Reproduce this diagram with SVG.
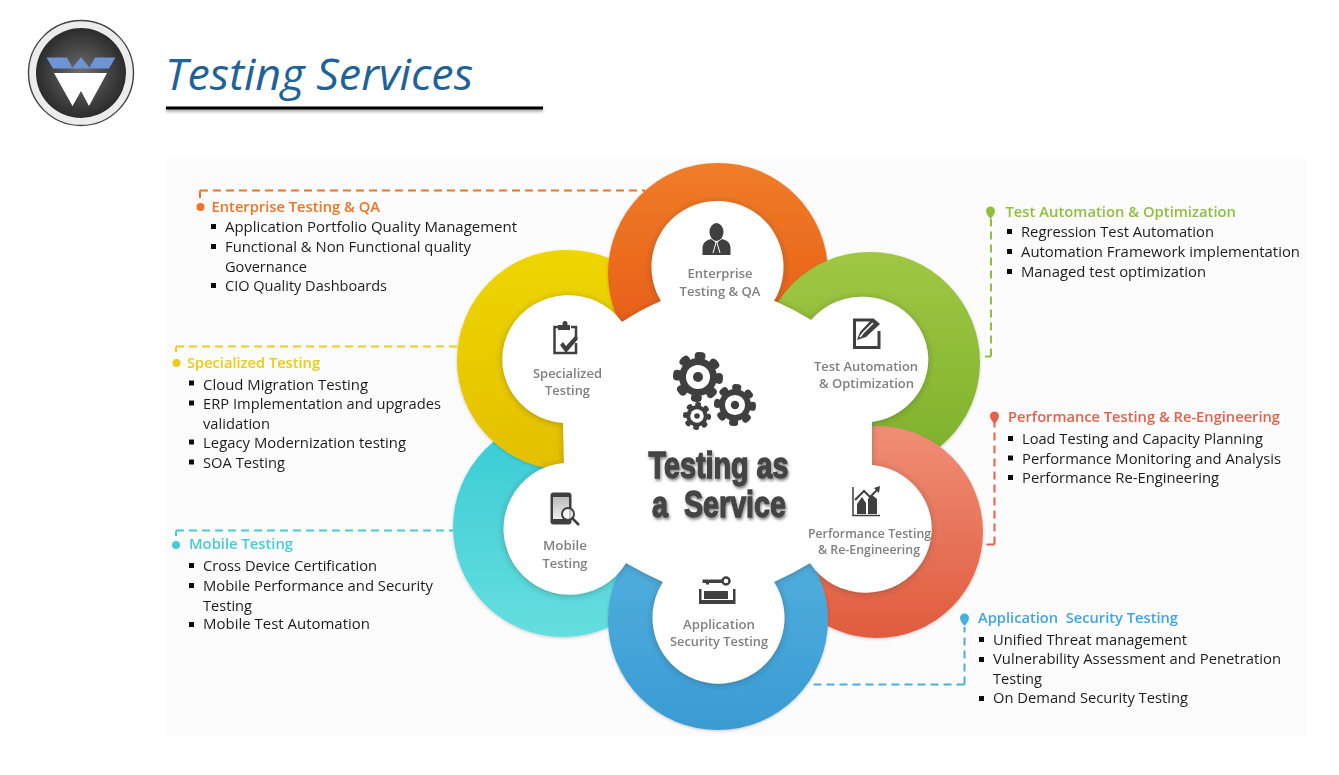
<svg xmlns="http://www.w3.org/2000/svg" width="1339" height="775" viewBox="0 0 1339 775">
<style>
text{font-family:"Open Sans","Noto Sans","Liberation Sans",sans-serif}
.b{font-size:15px;fill:#1d1d1d}
.h{font-size:15px;font-weight:600}
.l{font-size:13px;font-weight:600;fill:#808080;text-anchor:middle}
.c{font-family:"Liberation Sans",Arial,sans-serif;font-size:36px;font-weight:700;fill:#444;stroke:#444;stroke-width:1.3;text-anchor:middle}
.sq{fill:#111}
.dash{fill:none;stroke-width:2;stroke-dasharray:8 5}
.ic{fill:#3f3f3f}
.ol{fill:none;stroke:#3f3f3f}
.ring{filter:url(#rs)}
.soft{filter:url(#sf)}
</style>
<defs>
<linearGradient id="gO" x1="0" y1="0" x2="0" y2="1"><stop offset="0" stop-color="#ef7d28"/><stop offset="1" stop-color="#e65512"/></linearGradient>
<linearGradient id="gG" x1="0" y1="0" x2="0" y2="1"><stop offset="0" stop-color="#9fc744"/><stop offset="1" stop-color="#7db02b"/></linearGradient>
<linearGradient id="gR" x1="0" y1="0" x2="0" y2="1"><stop offset="0" stop-color="#ef8e76"/><stop offset="1" stop-color="#e05c3e"/></linearGradient>
<linearGradient id="gB" x1="0" y1="0" x2="0" y2="1"><stop offset="0" stop-color="#56b3e0"/><stop offset="1" stop-color="#3a9bd3"/></linearGradient>
<linearGradient id="gC" x1="0" y1="0" x2="0" y2="1"><stop offset="0" stop-color="#38cbd5"/><stop offset="1" stop-color="#65dede"/></linearGradient>
<linearGradient id="gY" x1="0" y1="0" x2="0" y2="1"><stop offset="0" stop-color="#eed600"/><stop offset="1" stop-color="#e4bf00"/></linearGradient>
<radialGradient id="gL"><stop offset="0" stop-color="#6e6e6e"/><stop offset="1" stop-color="#2b2b2b"/></radialGradient>
<linearGradient id="gP" x1="0" y1="0" x2="0" y2="1"><stop offset="0" stop-color="#bbb"/><stop offset="1" stop-color="#eee"/></linearGradient>
<filter id="rs" x="-10%" y="-10%" width="120%" height="120%"><feDropShadow dx="0" dy="1" stdDeviation="1.5" flood-color="#000" flood-opacity=".2"/></filter>
<filter id="hs" x="-10%" y="-10%" width="120%" height="120%"><feDropShadow dx="0" dy="1" stdDeviation="3" flood-color="#333" flood-opacity=".35"/></filter>
<filter id="ts" x="-10%" y="-20%" width="120%" height="140%"><feDropShadow dx="1" dy="2" stdDeviation="1.5" flood-color="#000" flood-opacity=".5"/></filter>
<filter id="ls" x="-2%" y="-200%" width="104%" height="500%"><feDropShadow dx="0" dy="2" stdDeviation="1.5" flood-color="#000" flood-opacity=".4"/></filter>
<filter id="sf" x="-5%" y="-5%" width="110%" height="110%"><feGaussianBlur stdDeviation=".3"/></filter>
<pattern id="tex" width="4" height="4" patternUnits="userSpaceOnUse"><rect width="4" height="4" fill="#fcfcfc"/><rect width="2" height="2" fill="#fafafa"/></pattern>
<g id="gear"><circle r="19" class="ic"/><circle r="21" fill="none" stroke="#3f3f3f" stroke-width="8" stroke-linecap="round" stroke-dasharray="3 13.49"/><circle r="12" fill="#fff"/><circle r="5" class="ic"/></g>
</defs>
<rect width="1339" height="775" fill="#fff"/>
<rect x="166" y="158" width="1140" height="579" fill="url(#tex)"/>

<g id="logo">
<circle cx="81" cy="73" r="52.5" fill="#ececec" stroke="#444" stroke-width="1.4"/>
<circle cx="81" cy="73" r="45" fill="url(#gL)"/>
<polygon points="46.5,57.5 67,57.5 73,68.5 53,68.5" fill="#6f94d6"/>
<polygon points="81,57 90,68.5 72,68.5" fill="#6f94d6"/>
<polygon points="95,57.5 115.5,57.5 109,68.5 89,68.5" fill="#6f94d6"/>
<polygon points="54,73 107,73 89,106 81,91 72.5,106" fill="#fff"/>
</g>
<text x="165" y="90" font-size="44" font-style="italic" fill="#1f6297" textLength="308" lengthAdjust="spacingAndGlyphs">Testing Services</text>
<rect id="title-rule" x="166" y="106.500" width="377" height="3" fill="#000" filter="url(#ls)"/>

<g id="connectors">
<path class="dash" stroke="#ee7424" d="M200 190.500H645M200 190.500V198"/>
<path class="dash" stroke="#eccd1e" d="M176 346.500H457M176 346.500V352"/>
<path class="dash" stroke="#45cdd3" d="M176 530.500H453M176 530.500V536"/>
<path class="dash" stroke="#8fbf3c" d="M991 356.500H985M991 356.500V219"/>
<path class="dash" stroke="#e8604a" d="M994.500 544.500H982M994.500 544.500V423"/>
<path class="dash" stroke="#4aaee0" d="M964.500 684.500H810M964.500 684.500V627"/>
</g>

<g id="petals">
<circle class="ring" cx="563" cy="527" r="110" fill="url(#gC)"/>
<circle class="ring" cx="567" cy="360" r="110" fill="url(#gY)"/>
<circle class="ring" cx="718" cy="273" r="110" fill="url(#gO)"/>
<circle class="ring" cx="870" cy="362" r="110" fill="url(#gG)"/>
<circle class="ring" cx="877" cy="532" r="106" fill="url(#gR)"/>
<circle class="ring" cx="718" cy="620" r="110" fill="url(#gB)"/>
</g>
<path id="hub" fill="#fff" filter="url(#hs)" d="M622 322Q640 310 661 301A66 66 0 1 1 774 301L777 302Q795 310 811 320A66 63 0 1 1 872 422V465A66 64 0 1 1 810 563Q792 574 774 582A66 66 0 1 1 663 582Q645 574 626 563A66 66 0 1 1 564 463L563 423A66 64 0 1 1 622 322Z"/>

<g id="center">
<use href="#gear" transform="translate(698 377)"/>
<use href="#gear" transform="translate(735 405) scale(.84)"/>
<use href="#gear" transform="translate(697 416) scale(.56)"/>
<g filter="url(#ts)">
<text class="c" x="718.500" y="478" textLength="140" lengthAdjust="spacingAndGlyphs">Testing as</text>
<text class="c" x="719" y="517" textLength="134" lengthAdjust="spacingAndGlyphs" xml:space="preserve">a  Service</text>
</g>
</g>

<g id="node-enterprise" class="soft">
<ellipse class="ic" cx="716.500" cy="232" rx="7" ry="9"/>
<path class="ic" d="M702.500 255V247Q703 241 711 239L716.500 243L722 239Q730 241 730.500 247V255Z"/>
<path d="M716.500 241L713 253M716.500 241L720 253" stroke="#fff" fill="none"/>
<text class="l" x="720" y="278" textLength="65" lengthAdjust="spacingAndGlyphs">Enterprise</text>
<text class="l" x="720" y="296" textLength="81" lengthAdjust="spacingAndGlyphs">Testing &amp; QA</text>
</g>
<g id="node-automation" class="soft">
<path class="ol" stroke-width="3" d="M872 320H854.500V347.500H879V331"/>
<path class="ic" d="M857 340L860 332L873 318L880 324L866 337Z"/>
<path d="M860 337L863 333L873 323" stroke="#fff" fill="none" stroke-width="1.500"/>
<text class="l" x="866" y="371" textLength="104" lengthAdjust="spacingAndGlyphs">Test Automation</text>
<text class="l" x="866.500" y="388" textLength="95" lengthAdjust="spacingAndGlyphs">&amp; Optimization</text>
</g>
<g id="node-performance" class="soft">
<path class="ol" stroke-width="1.500" d="M853 487V515.500H880"/>
<path class="ic" d="M857 514V504L862 497L866 503V514ZM868 514V499L872 495L877 499V514Z"/>
<path class="ol" stroke-width="2" d="M855 500L864 491L870 497L878 489"/>
<polygon class="ic" points="880,486 879,493 874,488"/>
<text class="l" x="869.500" y="538" textLength="123" lengthAdjust="spacingAndGlyphs">Performance Testing</text>
<text class="l" x="869" y="554" textLength="102" lengthAdjust="spacingAndGlyphs">&amp; Re-Engineering</text>
</g>
<g id="node-security" class="soft">
<circle cx="726" cy="581" r="3.500" fill="none" stroke="#3f3f3f" stroke-width="2.500"/>
<path class="ic" d="M702.500 579.500H723V583H709V584.500H706V583H702.500Z"/>
<path class="ic" d="M699 589H701.500V600H733V589H735.500V604H699Z"/>
<rect class="ic" x="704" y="591" width="24" height="8"/>
<text class="l" x="719" y="629" textLength="72" lengthAdjust="spacingAndGlyphs">Application</text>
<text class="l" x="719" y="646" textLength="98" lengthAdjust="spacingAndGlyphs">Security Testing</text>
</g>
<g id="node-mobile" class="soft">
<rect x="550.500" y="492.500" width="21" height="32" rx="3" class="ic"/>
<rect x="553" y="497" width="16" height="22" fill="url(#gP)"/>
<circle cx="568" cy="514" r="6" fill="#fff" fill-opacity=".7" stroke="#3f3f3f" stroke-width="2"/>
<path d="M572.500 518.500L579 525" stroke="#3f3f3f" stroke-width="2.500" fill="none"/>
<text class="l" x="565" y="550" textLength="44" lengthAdjust="spacingAndGlyphs">Mobile</text>
<text class="l" x="565" y="568" textLength="45" lengthAdjust="spacingAndGlyphs">Testing</text>
</g>
<g id="node-specialized" class="soft">
<path class="ol" stroke-width="2.500" d="M559 327H554.500V353H576V343M571 327H576V338"/>
<rect x="558" y="325" width="12" height="5" class="ic"/>
<circle cx="565" cy="323.500" r="2.500" class="ic"/>
<path class="ic" d="M560 345L563 342L566 346L576 335L578 339L566 353Z"/>
<text class="l" x="567.500" y="378" textLength="69" lengthAdjust="spacingAndGlyphs">Specialized</text>
<text class="l" x="567.500" y="395" textLength="45" lengthAdjust="spacingAndGlyphs">Testing</text>
</g>

<g id="callout-enterprise" class="soft" transform="translate(0 -.5)">
<circle cx="200.500" cy="207.500" r="4" fill="#ee7424"/>
<text class="h" fill="#ee7424" x="211.500" y="212.500" textLength="168.500" lengthAdjust="spacingAndGlyphs">Enterprise Testing &amp; QA</text>
<rect class="sq" x="211" y="224.500" width="5" height="5"/><rect class="sq" x="211" y="244.500" width="5" height="5"/><rect class="sq" x="211" y="283.500" width="5" height="5"/>
<text class="b" x="225" y="232.500" textLength="292" lengthAdjust="spacingAndGlyphs">Application Portfolio Quality Management</text>
<text class="b" x="225" y="252" textLength="246" lengthAdjust="spacingAndGlyphs">Functional &amp; Non Functional quality</text>
<text class="b" x="225" y="272" textLength="82" lengthAdjust="spacingAndGlyphs">Governance</text>
<text class="b" x="225" y="291.500" textLength="162" lengthAdjust="spacingAndGlyphs">CIO Quality Dashboards</text>
</g>
<g id="callout-specialized" class="soft" transform="translate(0 -.5)">
<circle cx="176.500" cy="363.500" r="4" fill="#eccd1e"/>
<text class="h" fill="#eccb12" x="187" y="368" textLength="133" lengthAdjust="spacingAndGlyphs">Specialized Testing</text>
<rect class="sq" x="189" y="381" width="5" height="5"/><rect class="sq" x="189" y="401" width="5" height="5"/><rect class="sq" x="189" y="440" width="5" height="5"/><rect class="sq" x="189" y="460" width="5" height="5"/>
<text class="b" x="203" y="390" textLength="165" lengthAdjust="spacingAndGlyphs">Cloud Migration Testing</text>
<text class="b" x="203" y="409" textLength="238" lengthAdjust="spacingAndGlyphs">ERP Implementation and upgrades</text>
<text class="b" x="203" y="429" textLength="67" lengthAdjust="spacingAndGlyphs">validation</text>
<text class="b" x="203" y="448" textLength="203" lengthAdjust="spacingAndGlyphs">Legacy Modernization testing</text>
<text class="b" x="203" y="468" textLength="82" lengthAdjust="spacingAndGlyphs">SOA Testing</text>
</g>
<g id="callout-mobile" class="soft">
<circle cx="176" cy="545" r="4" fill="#45cdd3"/>
<text class="h" fill="#45cdd3" x="189" y="549" textLength="104" lengthAdjust="spacingAndGlyphs">Mobile Testing</text>
<rect class="sq" x="189" y="563" width="5" height="5"/><rect class="sq" x="189" y="583" width="5" height="5"/><rect class="sq" x="189" y="622" width="5" height="5"/>
<text class="b" x="203" y="571" textLength="174" lengthAdjust="spacingAndGlyphs">Cross Device Certification</text>
<text class="b" x="203" y="591" textLength="230" lengthAdjust="spacingAndGlyphs">Mobile Performance and Security</text>
<text class="b" x="203" y="610.500" textLength="49" lengthAdjust="spacingAndGlyphs">Testing</text>
<text class="b" x="203" y="629" textLength="167" lengthAdjust="spacingAndGlyphs">Mobile Test Automation</text>
</g>
<g id="callout-automation" class="soft">
<path fill="#8fbf3c" d="M986 211a4.500 4.500 0 1 1 9 0q0 3-4.500 8q-4.500-5-4.500-8Z"/>
<text class="h" fill="#8fbf3c" x="1005.500" y="216.500" textLength="230.500" lengthAdjust="spacingAndGlyphs">Test Automation &amp; Optimization</text>
<rect class="sq" x="1007" y="229" width="5" height="5"/><rect class="sq" x="1007" y="249" width="5" height="5"/><rect class="sq" x="1007" y="269" width="5" height="5"/>
<text class="b" x="1021" y="236.500" textLength="193" lengthAdjust="spacingAndGlyphs">Regression Test Automation</text>
<text class="b" x="1021" y="256.500" textLength="279" lengthAdjust="spacingAndGlyphs">Automation Framework implementation</text>
<text class="b" x="1021" y="276.500" textLength="185" lengthAdjust="spacingAndGlyphs">Managed test optimization</text>
</g>
<g id="callout-performance" class="soft">
<path fill="#e8604a" d="M990 416a4.500 4.500 0 1 1 9 0q0 3-4.500 8q-4.500-5-4.500-8Z"/>
<text class="h" fill="#e8604a" x="1008" y="422" textLength="272" lengthAdjust="spacingAndGlyphs">Performance Testing &amp; Re-Engineering</text>
<rect class="sq" x="1008" y="436" width="5" height="5"/><rect class="sq" x="1008" y="455.500" width="5" height="5"/><rect class="sq" x="1008" y="475" width="5" height="5"/>
<text class="b" x="1022" y="444" textLength="241" lengthAdjust="spacingAndGlyphs">Load Testing and Capacity Planning</text>
<text class="b" x="1022" y="463.500" textLength="259" lengthAdjust="spacingAndGlyphs">Performance Monitoring and Analysis</text>
<text class="b" x="1022" y="483" textLength="197" lengthAdjust="spacingAndGlyphs">Performance Re-Engineering</text>
</g>
<g id="callout-security" class="soft">
<path fill="#4aaee0" d="M960 618a4.500 4.500 0 1 1 9 0q0 3-4.500 8q-4.500-5-4.500-8Z"/>
<text class="h" fill="#3ea6de" x="978" y="622.500" textLength="200" lengthAdjust="spacingAndGlyphs" xml:space="preserve">Application  Security Testing</text>
<rect class="sq" x="979" y="637" width="5" height="5"/><rect class="sq" x="979" y="657" width="5" height="5"/><rect class="sq" x="979" y="696" width="5" height="5"/>
<text class="b" x="993" y="645" textLength="194" lengthAdjust="spacingAndGlyphs">Unified Threat management</text>
<text class="b" x="993" y="664" textLength="288" lengthAdjust="spacingAndGlyphs">Vulnerability Assessment and Penetration</text>
<text class="b" x="993" y="684" textLength="49" lengthAdjust="spacingAndGlyphs">Testing</text>
<text class="b" x="993" y="703" textLength="195" lengthAdjust="spacingAndGlyphs">On Demand Security Testing</text>
</g>
</svg>
